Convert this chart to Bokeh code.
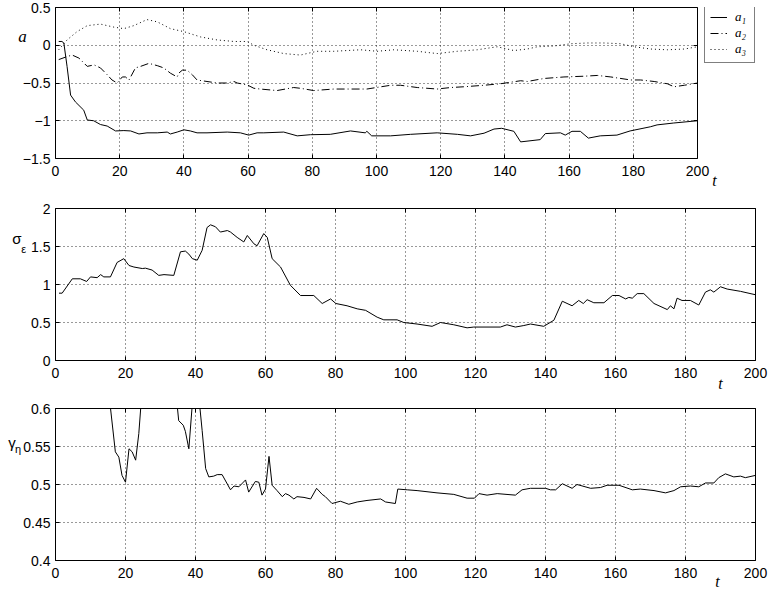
from bokeh.plotting import figure
from bokeh.layouts import column
from bokeh.models import FixedTicker, LinearAxis, Range1d, Label, Legend, LegendItem
from bokeh.embed import file_html
from bokeh.resources import INLINE

# ---------------- data ----------------
# AR coefficients a1, a2, a3 over time t
t_a1 = [1, 2, 2.6, 3.6, 4.7, 6.2, 8.8, 9.9, 11.9, 14, 16.1, 18.7, 21.3, 23.4, 26, 28.5,
        31.7, 34.8, 35.8, 37.9, 40, 42, 44.1, 47.2, 53.5, 57.6, 60.2, 62.8, 64.9, 71.1,
        75.3, 79.4, 85.6, 91.9, 96.5, 97, 98.5, 104.4, 110.6, 118.9, 125.2, 129.3, 133.5,
        136.6, 139, 142.8, 144.9, 151, 152.6, 157.3, 158.8, 160.9, 163.5, 166, 169.7,
        174.9, 179, 185.3, 187.4, 192.6, 200]
a1 = [0.05, 0.05, 0.03, -0.28, -0.66, -0.75, -0.86, -0.99, -1.0, -1.05, -1.07, -1.135,
      -1.13, -1.135, -1.175, -1.16, -1.16, -1.15, -1.175, -1.15, -1.12, -1.135, -1.16,
      -1.16, -1.15, -1.16, -1.19, -1.16, -1.16, -1.15, -1.2, -1.185, -1.18, -1.135, -1.16,
      -1.14, -1.2, -1.2, -1.18, -1.16, -1.18, -1.2, -1.165, -1.11, -1.10, -1.14, -1.28,
      -1.25, -1.17, -1.16, -1.19, -1.14, -1.14, -1.23, -1.2, -1.19, -1.135, -1.08, -1.055,
      -1.03, -1.0]

t_a2 = [1, 3.6, 5.2, 7.3, 9.9, 12, 14, 16.1, 17.6, 19.2, 20.8, 21.8, 22.9, 24.9, 26.5,
        29.1, 31.7, 33.7, 35.8, 37.9, 38.4, 39.5, 41, 42.6, 44.1, 47.2, 50.4, 53.5, 55.6,
        56.6, 59.7, 61.8, 63.8, 69, 74.2, 76.3, 80.4, 86.7, 91.9, 97, 104.4, 107.5, 112.7,
        118.9, 123.1, 127.2, 133.5, 138.6, 144.9, 147, 152.2, 158.4, 164.7, 168.8, 173,
        179.2, 182.3, 186.5, 190.6, 192.7, 195.9, 200]
a2 = [-0.19, -0.15, -0.13, -0.17, -0.28, -0.26, -0.3, -0.39, -0.46, -0.5, -0.42, -0.42,
      -0.46, -0.3, -0.28, -0.24, -0.27, -0.3, -0.37, -0.42, -0.37, -0.33, -0.33, -0.39,
      -0.46, -0.48, -0.5, -0.5, -0.48, -0.5, -0.525, -0.57, -0.58, -0.6, -0.56, -0.57,
      -0.6, -0.58, -0.58, -0.58, -0.53, -0.53, -0.56, -0.58, -0.56, -0.55, -0.53, -0.51,
      -0.47, -0.48, -0.44, -0.42, -0.41, -0.4, -0.42, -0.46, -0.46, -0.48, -0.51, -0.55,
      -0.53, -0.5]

t_a3 = [1, 3.6, 6.7, 9.9, 14, 18.2, 21.3, 24.4, 28.5, 31.7, 35.8, 40, 45.2, 50.4, 55.6,
        59.7, 61.8, 65.9, 71.1, 76.3, 81.4, 86.7, 95, 100.2, 105.4, 112.7, 118.9, 125.2,
        131.4, 137.6, 142.8, 147, 150.1, 155.3, 160.5, 165.7, 170.9, 176.1, 180.2, 185.4,
        190.6, 195.9, 200]
a3 = [-0.06, 0.07, 0.18, 0.26, 0.28, 0.24, 0.22, 0.26, 0.34, 0.31, 0.22, 0.18, 0.11, 0.07,
      0.05, 0.05, 0.0, -0.06, -0.11, -0.13, -0.08, -0.08, -0.06, -0.08, -0.06, -0.08,
      -0.11, -0.08, -0.06, -0.02, -0.07, -0.05, -0.02, -0.01, 0.02, 0.03, 0.03, 0.02,
      -0.02, -0.05, -0.06, -0.05, -0.02]

# noise standard deviation sigma_eps
t_sig = [1, 1.9, 4.8, 7.1, 8.9, 10, 11.9, 12.9, 13.8, 15.7, 17.6, 19.5, 21, 22.4, 24.8,
         25.7, 27.6, 29.5, 31, 33.8, 35.7, 37.1, 38.1, 39.1, 40.5, 41.9, 43.3, 44.3, 45.7,
         47.1, 49.1, 50, 51.9, 53.8, 54.8, 56.7, 57.6, 59.5, 60.5, 61.9, 64.3, 67.1, 70,
         73.8, 76.2, 78.6, 80.1, 83.3, 86.2, 88.6, 91.9, 93.8, 97.6, 99.5, 103.3, 107.6,
         110, 113.8, 117.6, 119.5, 127.1, 129, 131.4, 133.8, 135.7, 139.5, 142.4, 144.8,
         147.6, 149.5, 150.8, 151.9, 153.8, 156.7, 159.1, 161, 162.9, 163.8, 164.8, 166.2,
         168.1, 171, 174.8, 175.7, 176.7, 177.6, 179, 181.4, 183.8, 185.7, 187.1, 188.1,
         190, 191.9, 195.7, 200]
sig = [0.886, 0.886, 1.075, 1.075, 1.04, 1.10, 1.09, 1.13, 1.10, 1.10, 1.29, 1.34, 1.25,
       1.23, 1.21, 1.215, 1.19, 1.12, 1.13, 1.12, 1.43, 1.44, 1.40, 1.34, 1.32, 1.45, 1.75,
       1.785, 1.76, 1.69, 1.71, 1.69, 1.62, 1.56, 1.645, 1.535, 1.51, 1.67, 1.62, 1.34,
       1.23, 0.99, 0.855, 0.855, 0.75, 0.81, 0.75, 0.72, 0.68, 0.66, 0.57, 0.535, 0.535,
       0.50, 0.48, 0.45, 0.50, 0.47, 0.43, 0.44, 0.44, 0.47, 0.44, 0.46, 0.48, 0.45, 0.53,
       0.78, 0.72, 0.79, 0.75, 0.80, 0.76, 0.76, 0.855, 0.855, 0.81, 0.83, 0.82, 0.88,
       0.88, 0.75, 0.67, 0.72, 0.68, 0.82, 0.79, 0.79, 0.73, 0.90, 0.93, 0.90, 0.97, 0.94,
       0.91, 0.865]

# forgetting parameter gamma_eta
t_gam = [1, 5, 10, 14, 15, 17.1, 18.1, 19, 20, 21, 21.9, 22.9, 23.8, 25, 30, 34, 35.2,
         36.5, 37.1, 38.1, 40, 41.9, 42.9, 43.8, 45.2, 46.2, 47.6, 50, 51, 52.4, 54.3, 55.2,
         57.1, 58.1, 59, 60, 61, 61.9, 63.3, 64.8, 65.7, 66.7, 68.1, 69, 71, 72.9, 74.6,
         76.2, 77.1, 79, 81.4, 83.8, 86.2, 89, 92.9, 94.3, 97.1, 97.8, 100.5, 103.3, 109,
         113.8, 117.6, 119.7, 121, 123.3, 126.2, 131.4, 133.3, 135.7, 140, 141.4, 142.9,
         144.8, 147.6, 149, 152.9, 155.7, 157.6, 161, 164.8, 167.1, 171, 174.3, 176.7,
         178.6, 181.4, 183.8, 185.7, 188.1, 189.5, 191.4, 193.8, 195.7, 197.1, 200]
gam = [0.95, 0.85, 0.75, 0.66, 0.63, 0.543, 0.536, 0.512, 0.503, 0.547, 0.543, 0.532,
       0.567, 0.64, 0.7, 0.64, 0.584, 0.578, 0.57, 0.547, 0.66, 0.571, 0.521, 0.51, 0.511,
       0.513, 0.513, 0.493, 0.498, 0.497, 0.506, 0.49, 0.504, 0.503, 0.486, 0.494, 0.537,
       0.499, 0.492, 0.484, 0.488, 0.486, 0.481, 0.484, 0.483, 0.481, 0.495, 0.487, 0.484,
       0.475, 0.478, 0.474, 0.477, 0.479, 0.481, 0.477, 0.475, 0.494, 0.493, 0.492, 0.489,
       0.487, 0.482, 0.482, 0.488, 0.486, 0.488, 0.486, 0.493, 0.495, 0.495, 0.493, 0.493,
       0.501, 0.495, 0.5, 0.495, 0.496, 0.499, 0.499, 0.493, 0.494, 0.492, 0.489, 0.492,
       0.497, 0.498, 0.497, 0.502, 0.502, 0.509, 0.514, 0.51, 0.511, 0.509, 0.512]

x_ticks = [0, 20, 40, 60, 80, 100, 120, 140, 160, 180, 200]
a_ticks = [-1.5, -1, -0.5, 0, 0.5]
a_tick_labels = ["\u22121.5", "\u22121", "\u22120.5", "0", "0.5"]
sig_ticks = [0, 0.5, 1, 1.5, 2]
sig_tick_labels = ["0", "0.5", "1", "1.5", "2"]
gam_ticks = [0.4, 0.45, 0.5, 0.55, 0.6]
gam_tick_labels = ["0.4", "0.45", "0.5", "0.55", "0.6"]

SANS = "Liberation Sans"
SERIF = "Liberation Serif"
FRAME_W = 700          # common frame width of all three panels (px)
BOX_W = 642            # width of the boxed area of the top panel (px)


def style_axis(ax, ticks, labels=None, show_labels=True, standoff=5, line=False):
    ax.ticker = FixedTicker(ticks=ticks)
    ax.axis_line_color = "black" if line else None
    ax.major_tick_in = 4
    ax.major_tick_out = 0
    ax.major_tick_line_color = "black"
    ax.minor_tick_line_color = None
    if show_labels:
        ax.major_label_standoff = standoff
        ax.major_label_text_font = SANS
        ax.major_label_text_font_size = "14px"
        ax.major_label_text_color = "black"
        if labels is not None:
            ax.major_label_overrides = {tk: lb for tk, lb in zip(ticks, labels)}
    else:
        # tick marks only
        ax.major_label_standoff = 0
        ax.major_label_text_font_size = "1px"
        ax.major_label_overrides = {tk: "" for tk in ticks}


def panel(frame_h, top, bottom, yr, yticks, ylabels, x_end=200):
    # x_end > 200 leaves room inside the frame (right of the box) for a legend
    boxed = x_end == 200
    p = figure(frame_width=FRAME_W, frame_height=frame_h,
               x_range=Range1d(0, x_end), y_range=Range1d(*yr),
               output_backend="svg", toolbar_location=None, title=None,
               min_border_left=55, min_border_right=14,
               min_border_top=top, min_border_bottom=bottom)
    p.background_fill_color = "white"
    p.border_fill_color = "white"
    if boxed:
        p.outline_line_color = "black"
        p.outline_line_width = 1
    else:
        p.outline_line_color = None
    style_axis(p.xaxis[0], x_ticks, standoff=7, line=not boxed)
    style_axis(p.yaxis[0], yticks, ylabels, line=not boxed)
    top_ax = LinearAxis()
    style_axis(top_ax, x_ticks, show_labels=False, line=not boxed)
    right_ax = LinearAxis()
    style_axis(right_ax, yticks, show_labels=False, line=not boxed)
    if not boxed:
        p.xaxis[0].bounds = (0, 200)
        top_ax.bounds = (0, 200)
        right_ax.fixed_location = 200
    p.add_layout(top_ax, "above")
    p.add_layout(right_ax, "right")
    for g, tk in ((p.xgrid[0], x_ticks), (p.ygrid[0], yticks)):
        g.ticker = FixedTicker(ticks=tk)
        g.grid_line_color = "black"
        g.grid_line_dash = "1 3"
        g.grid_line_width = 1
        g.grid_line_alpha = 0.8
    if not boxed:
        p.ygrid[0].cross_bounds = (0, 200)
    return p


def text(p, x, y, s, size, font=SANS, style="normal"):
    # labels live in the left side panel so they are not clipped to the frame;
    # their position still follows the data scales
    p.add_layout(Label(x=x, y=y, text=s, text_font=font, text_font_style=style,
                       text_font_size=size, text_align="center",
                       text_baseline="middle", text_color="black"), "left")


# ---- coefficients a ----
p1 = panel(151, 7, 32, (-1.5, 0.5), a_ticks, a_tick_labels, x_end=200 * FRAME_W / BOX_W)
r1 = p1.line(t_a1, a1, line_color="black", line_width=1)
r2 = p1.line(t_a2, a2, line_color="black", line_width=1, line_dash="8 3 1 3")
r3 = p1.line(t_a3, a3, line_color="black", line_width=1, line_dash="1 3")
legend = Legend(items=[LegendItem(label="a\u2081", renderers=[r1]),
                       LegendItem(label="a\u2082", renderers=[r2]),
                       LegendItem(label="a\u2083", renderers=[r3])],
                location=(BOX_W + 7, 95), orientation="vertical",
                label_text_font=SERIF, label_text_font_style="italic",
                label_text_font_size="13px", label_text_color="black",
                glyph_width=17, glyph_height=16, label_height=16, label_width=14,
                label_standoff=8, padding=5, spacing=0, margin=0,
                border_line_color="black", border_line_width=1,
                background_fill_color="white", background_fill_alpha=1)
p1.add_layout(legend)
text(p1, -10.3, 0.11, "a", "17px", SERIF, "italic")
text(p1, 205.3, -1.795, "t", "16px", SERIF, "italic")

# ---- noise level sigma_eps ----
p2 = panel(152, 18, 32, (0, 2), sig_ticks, sig_tick_labels)
p2.line(t_sig, sig, line_color="black", line_width=1)
text(p2, -11.0, 1.605, "\u03c3", "15px")
text(p2, -9.1, 1.47, "\u03b5", "11px")
text(p2, 190.0, -0.30, "t", "16px", SERIF, "italic")

# ---- gamma_eta ----
p3 = panel(152, 16, 32, (0.4, 0.6), gam_ticks, gam_tick_labels)
p3.line(t_gam, gam, line_color="black", line_width=1)
text(p3, -12.4, 0.555, "\u03b3", "15px")
text(p3, -10.7, 0.547, "\u03b7", "11px")
text(p3, 189.1, 0.3724, "t", "16px", SERIF, "italic")

layout = column(p1, p2, p3, spacing=0)
open("out.html", "w").write(file_html(layout, INLINE))
